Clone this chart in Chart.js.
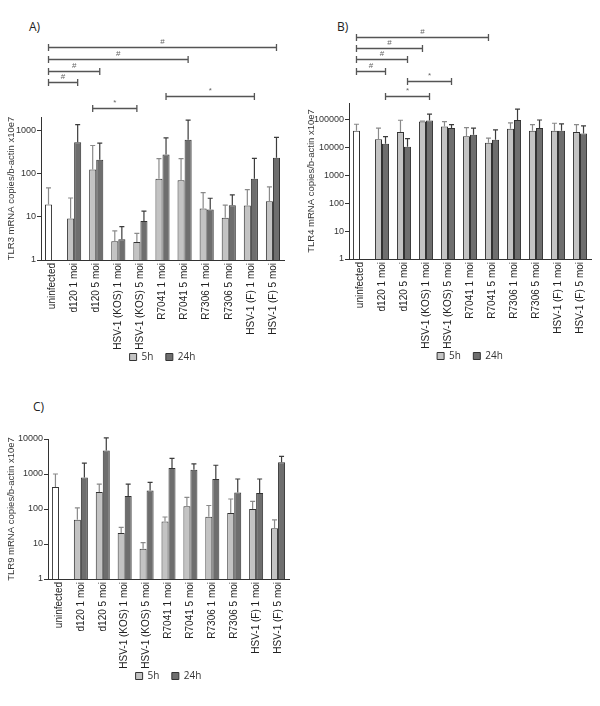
<!DOCTYPE html>
<html>
<head>
<meta charset="utf-8">
<script src="https://cdn.jsdelivr.net/npm/chart.js@4.4.1/dist/chart.umd.min.js"></script>
<style>
  body { margin: 0; width: 600px; height: 706px; background: #fff; position: relative; overflow: hidden; }
  canvas { position: absolute; }
  .tag { position: absolute; font: 12px 'Open Sans', sans-serif; color: #222; }
</style>
</head>
<body>
<div class="tag" style="left:29px;top:18px">A)</div>
<div class="tag" style="left:337px;top:18px">B)</div>
<div class="tag" style="left:33px;top:398px">C)</div>
<canvas id="chartA" width="300" height="380" style="left:0;top:0"></canvas>
<canvas id="chartB" width="300" height="380" style="left:300px;top:0"></canvas>
<canvas id="chartC" width="300" height="316" style="left:0;top:390px"></canvas>
<script>
const categories = ['uninfected', 'd120 1 moi', 'd120 5 moi', 'HSV-1 (KOS) 1 moi', 'HSV-1 (KOS) 5 moi',
    'R7041 1 moi', 'R7041 5 moi', 'R7306 1 moi', 'R7306 5 moi', 'HSV-1 (F) 1 moi', 'HSV-1 (F) 5 moi'];
const seriesNames = ['5h', '24h'];

// TLR3 (panel A)
const tlr3_5h = [19, 9.1, 122, 2.7, 2.6, 75, 69, 15.4, 9.4, 18, 22.7];
const tlr3_5hErr = [46, 27, 440, 4.7, 4.1, 218, 218, 36, 18.4, 42, 49];
const tlr3_24h = [null, 525, 206, 3.0, 7.9, 274, 595, 14.6, 18.4, 75, 230];
const tlr3_24hErr = [null, 1340, 500, 5.9, 13.4, 660, 1700, 26.6, 32, 221, 680];
const tlr3Ticks = [1, 10, 100, 1000];

// TLR4 (panel B)
const tlr4_5h = [40000, 20000, 36000, 86000, 57000, 25400, 15000, 48000, 40000, 40000, 36000];
const tlr4_5hErr = [69000, 50000, 96000, 90000, 86000, 52000, 22000, 77000, 67000, 75000, 67000];
const tlr4_24h = [null, 13800, 10800, 94000, 50500, 29000, 19200, 98000, 51000, 40000, 32000];
const tlr4_24hErr = [null, 24700, 21000, 159000, 67000, 50000, 43000, 240000, 98000, 71000, 60000];
const tlr4Ticks = [1, 10, 100, 1000, 10000, 100000];

// TLR9 (panel C)
const tlr9_5h = [425, 49, 307, 20.6, 7.3, 44, 119, 60, 77, 100, 28];
const tlr9_5hErr = [1000, 107, 517, 30, 11, 59, 215, 126, 193, 165, 49];
const tlr9_24h = [null, 800, 4660, 235, 335, 1480, 1320, 720, 297, 287, 2150];
const tlr9_24hErr = [null, 2050, 10700, 517, 575, 2800, 1950, 1780, 720, 720, 3170];
const tlr9Ticks = [1, 10, 100, 1000, 10000];

// significance brackets: [fromCategory, fromSeries, toCategory, toSeries, mark]
const bracketsA = [[0, 0, 10, 1, '#'], [0, 0, 6, 1, '#'], [0, 0, 2, 1, '#'], [0, 0, 1, 1, '#'], [5, 1, 9, 1, '*'], [2, 0, 4, 0, '*']];
const bracketsB = [[0, 0, 6, 0, '#'], [0, 0, 3, 0, '#'], [0, 0, 2, 1, '#'], [0, 0, 1, 1, '#'], [2, 1, 4, 1, '*'], [1, 1, 3, 1, '*']];

Chart.defaults.font.family = "'Liberation Sans', Arial, sans-serif";
Chart.defaults.color = '#333';

const colors = {
    uninfected: '#ffffff',
    early: '#c3c3c3',     // 5h
    late: '#6e6e6e',      // 24h
    edge: '#333333',
    errEarly: '#8a8a8a',
    errLate: '#3c3c3c',
};

const makePanel = (id, p) => {
    const errs = [p.err5h, p.err24h];

    const errorBars = {
        id: 'errorBars',
        afterDatasetsDraw(chart) {
            const ctx = chart.ctx;
            const y = chart.scales.y;
            errs.forEach((list, d) => {
                const meta = chart.getDatasetMeta(d);
                ctx.save();
                ctx.strokeStyle = d === 0 ? colors.errEarly : colors.errLate;
                ctx.lineWidth = 1.2;
                list.forEach((e, i) => {
                    if (e == null) return;
                    const bar = meta.data[i];
                    const top = y.getPixelForValue(e);
                    ctx.beginPath();
                    ctx.moveTo(bar.x, bar.y);
                    ctx.lineTo(bar.x, top);
                    ctx.moveTo(bar.x - 2.5, top);
                    ctx.lineTo(bar.x + 2.5, top);
                    ctx.stroke();
                });
                ctx.restore();
            });
        }
    };

    const brackets = {
        id: 'brackets',
        afterDraw(chart) {
            if (!p.brackets) return;
            const ctx = chart.ctx;
            const top = chart.chartArea.top;
            ctx.save();
            ctx.strokeStyle = '#555';
            ctx.lineWidth = 1.3;
            ctx.fillStyle = '#666';
            ctx.font = "8px 'Liberation Sans', Arial, sans-serif";
            ctx.textAlign = 'center';
            ctx.textBaseline = 'alphabetic';
            p.brackets.forEach(([c0, s0, c1, s1, mark], k) => {
                const x0 = chart.getDatasetMeta(s0).data[c0].x;
                const x1 = chart.getDatasetMeta(s1).data[c1].x;
                const yy = Math.round(top - p.bracketRows[k]) + 0.5;
                ctx.beginPath();
                ctx.moveTo(x0, yy);
                ctx.lineTo(x1, yy);
                ctx.moveTo(x0, yy - 3.5);
                ctx.lineTo(x0, yy + 3.5);
                ctx.moveTo(x1, yy - 3.5);
                ctx.lineTo(x1, yy + 3.5);
                ctx.stroke();
                ctx.fillText(mark, (x0 + x1) / 2, yy - 4);
            });
            ctx.restore();
        }
    };

    const legendFills = [colors.early, colors.late];

    return new Chart(document.getElementById(id), {
        type: 'bar',
        data: {
            labels: categories,
            datasets: [
                {
                    label: seriesNames[0],
                    data: p.v5h,
                    backgroundColor: (c) => c.dataIndex === 0 ? colors.uninfected : colors.early,
                    borderColor: colors.edge,
                    borderWidth: 1,
                    categoryPercentage: 0.64,
                    barPercentage: 1,
                },
                {
                    label: seriesNames[1],
                    data: p.v24h,
                    backgroundColor: colors.late,
                    borderColor: colors.edge,
                    borderWidth: 1,
                    categoryPercentage: 0.64,
                    barPercentage: 1,
                },
            ]
        },
        options: {
            responsive: false,
            animation: false,
            devicePixelRatio: 1,
            layout: { padding: { top: p.top, right: p.right, left: 0, bottom: p.bottom } },
            plugins: {
                tooltip: { enabled: false },
                legend: {
                    position: 'bottom',
                    fullSize: false,
                    labels: {
                        boxWidth: 7,
                        boxHeight: 7,
                        padding: 2,
                        color: '#333',
                        font: { family: "'Open Sans', sans-serif", size: 10 },
                        // trailing spaces widen the gap between items without moving the row
                        generateLabels: (chart) => Chart.defaults.plugins.legend.labels.generateLabels(chart)
                            .map((l, i, all) => ({
                                ...l,
                                text: i < all.length - 1 ? l.text + '    ' : l.text,
                                fillStyle: legendFills[i], strokeStyle: colors.edge, lineWidth: 1
                            })),
                    }
                },
            },
            scales: {
                x: {
                    afterFit: (s) => { s.height = 90; },
                    grid: { display: false, drawTicks: false },
                    border: { display: true, color: '#333', width: 1 },
                    ticks: {
                        autoSkip: false,
                        minRotation: 90,
                        maxRotation: 90,
                        padding: 3,
                        color: '#222',
                        font: { size: 10 },
                    }
                },
                y: {
                    type: 'logarithmic',
                    min: 1,
                    max: p.max,
                    afterFit: (s) => { s.width = p.left; },
                    afterBuildTicks: (axis) => { axis.ticks = p.ticks.map(v => ({ value: v })); },
                    grid: { display: true, drawOnChartArea: false, drawTicks: true, tickLength: 4, color: '#333' },
                    border: { display: true, color: '#333', width: 1 },
                    ticks: {
                        autoSkip: false,
                        padding: 1,
                        color: '#333',
                        font: { size: 9 },
                        callback: (v) => String(v),
                    },
                    title: {
                        display: true,
                        text: p.title,
                        color: '#333',
                        padding: { top: 6, bottom: 0 },
                        font: { size: 9.5 },
                    }
                }
            }
        },
        plugins: [errorBars, brackets]
    });
};

makePanel('chartA', {
    v5h: tlr3_5h, v24h: tlr3_24h, err5h: tlr3_5hErr, err24h: tlr3_24hErr,
    ticks: tlr3Ticks, max: 2000, title: 'TLR3 mRNA copies/b-actin x10e7',
    left: 41, right: 16, top: 117, bottom: 8,
    brackets: bracketsA, bracketRows: [70, 58, 46, 35, 21, 9],
});

makePanel('chartB', {
    v5h: tlr4_5h, v24h: tlr4_24h, err5h: tlr4_5hErr, err24h: tlr4_24hErr,
    ticks: tlr4Ticks, max: 400000, title: 'TLR4 mRNA copies/b-actin x10e7',
    left: 49, right: 9, top: 103, bottom: 9,
    brackets: bracketsB, bracketRows: [66, 55, 44, 32, 22, 7],
});

makePanel('chartC', {
    v5h: tlr9_5h, v24h: tlr9_24h, err5h: tlr9_5hErr, err24h: tlr9_24hErr,
    ticks: tlr9Ticks, max: 10000, title: 'TLR9 mRNA copies/b-actin x10e7',
    left: 48, right: 11, top: 49, bottom: 15,
});
</script>
</body>
</html>
